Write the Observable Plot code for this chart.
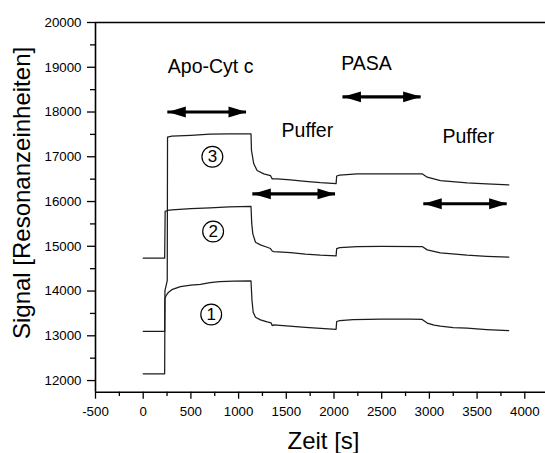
<!DOCTYPE html>
<html>
<head>
<meta charset="utf-8">
<script src="https://cdn.jsdelivr.net/npm/d3@7"></script>
<script src="https://cdn.jsdelivr.net/npm/@observablehq/plot@0.6"></script>
<style>
  html, body { margin: 0; padding: 0; background: #fff; }
  svg { display: block; }
</style>
</head>
<body>
<div id="chart"></div>
<script>
// Sensorgrams: time [s] vs. signal [resonance units]
const curve1 = [
  [0, 12150], [225, 12150], [228, 13830], [240, 13900], [260, 13960], [300, 14030],
  [390, 14100], [500, 14130], [600, 14150], [700, 14190], [800, 14210], [950, 14220],
  [1130, 14225], [1140, 13800], [1153, 13526], [1177, 13415], [1229, 13356], [1300, 13310],
  [1340, 13290], [1352, 13229], [1369, 13245], [1500, 13220], [1700, 13190], [1860, 13165],
  [2022, 13145], [2028, 13320], [2060, 13340], [2200, 13362], [2500, 13370], [2800, 13370],
  [2924, 13365], [2977, 13285], [3050, 13240], [3116, 13214], [3250, 13185], [3395, 13169],
  [3600, 13140], [3832, 13117]
];
const curve2 = [
  [0, 14733], [225, 14733], [230, 15780], [255, 15800], [300, 15815], [500, 15840],
  [700, 15860], [900, 15880], [1130, 15890], [1138, 15500], [1149, 15278], [1177, 15091],
  [1229, 15032], [1299, 14979], [1334, 14950], [1352, 14895], [1369, 14880], [1544, 14860],
  [1700, 14825], [1858, 14800], [2022, 14785], [2028, 14950], [2060, 14970], [2243, 14994],
  [2500, 15000], [2924, 14994], [2977, 14920], [3116, 14853], [3395, 14801], [3600, 14775],
  [3832, 14756]
];
const curve3 = [
  [0, 13100], [225, 13100], [228, 14010], [252, 14235], [255, 17437], [300, 17460],
  [500, 17480], [700, 17505], [900, 17512], [1130, 17513], [1135, 17140], [1159, 16842],
  [1194, 16693], [1264, 16619], [1334, 16581], [1352, 16507], [1405, 16507], [1544, 16485],
  [1700, 16450], [1858, 16420], [2022, 16400], [2028, 16570], [2060, 16590], [2243, 16619],
  [2600, 16620], [2924, 16619], [2977, 16543], [3116, 16469], [3395, 16417], [3600, 16395],
  [3832, 16372]
];

// Injection phases (double-headed arrows) and their labels
const phaseNames = ["Apo-Cyt c", "Puffer", "PASA", "Puffer"];
const phaseStart = [258, 1149, 2094, 2941];
const phaseEnd = [1083, 2016, 2913, 3815];
const phaseArrowY = [18000, 16170, 18340, 15950];
const phaseLabelX = [258, 1450, 2076, 3137];
const phaseLabelY = [18867, 17437, 18943, 17303];

// Curve numbers in circles
const curveIds = ["1", "2", "3"];
const curveIdX = [713, 733, 725];
const curveIdY = [13475, 15330, 17000];

// Axis ticks
const xMajor = d3.range(-500, 4001, 500);
const xMinor = d3.range(-250, 4001, 500);
const yMajor = d3.range(12000, 20001, 1000);
const yMinor = d3.range(12500, 20000, 1000);

const curves = [curve1, curve2, curve3];
const series = curves.flatMap((pts, i) => pts.map(([t, s]) => ({curve: curveIds[i], t, s})));
const phases = phaseNames.map((name, i) => ({
  name, x1: phaseStart[i], x2: phaseEnd[i], y: phaseArrowY[i], lx: phaseLabelX[i], ly: phaseLabelY[i]
}));
const ids = curveIds.map((id, i) => ({id, x: curveIdX[i], y: curveIdY[i]}));

// Filled arrowheads with the tip at the anchor point
const headRight = {draw(ctx) { ctx.moveTo(0, 0); ctx.lineTo(-18, -5.4); ctx.lineTo(-18, 5.4); ctx.closePath(); }};
const headLeft = {draw(ctx) { ctx.moveTo(0, 0); ctx.lineTo(18, -5.4); ctx.lineTo(18, 5.4); ctx.closePath(); }};

const font = "'Liberation Sans', Arial, Helvetica, sans-serif";
const plain = d => String(d);

const chart = Plot.plot({
  width: 545,
  height: 453,
  marginLeft: 95,
  marginRight: 0,
  marginTop: 22,
  marginBottom: 61.3,
  x: {domain: [-500, 4217]},
  y: {domain: [11740, 20000]},
  style: {fontFamily: font, background: "#fff", color: "#000", overflow: "visible"},
  marks: [
    Plot.axisY({ticks: yMinor, tickSize: 5, tickFormat: () => "", strokeWidth: 1.3, label: null}),
    Plot.axisY({ticks: yMajor, tickSize: 8, tickPadding: 6, tickFormat: plain, fontSize: 13.3, strokeWidth: 1.3, label: null}),
    Plot.axisX({ticks: xMinor, tickSize: 4.3, tickFormat: () => "", strokeWidth: 1.3, label: null}),
    Plot.axisX({ticks: xMajor, tickSize: 7, tickPadding: 7.3, tickFormat: plain, fontSize: 13.3, strokeWidth: 1.3, label: null}),
    Plot.ruleX([-500], {strokeWidth: 1.6}),
    Plot.ruleY([11740], {strokeWidth: 1.6}),
    Plot.ruleY([20000], {strokeWidth: 1.4}),
    Plot.line(series, {x: "t", y: "s", z: "curve", stroke: "#1c1c1c", strokeWidth: 1.25, curve: "linear"}),
    Plot.ruleY(phases, {y: "y", x1: "x1", x2: "x2", stroke: "#000", strokeWidth: 3.2}),
    Plot.dot(phases, {x: "x2", y: "y", symbol: headRight, fill: "#000", stroke: "none"}),
    Plot.dot(phases, {x: "x1", y: "y", symbol: headLeft, fill: "#000", stroke: "none"}),
    Plot.text(phases, {x: "lx", y: "ly", text: "name", textAnchor: "start", lineAnchor: "bottom", fontSize: 19.5, fill: "#000"}),
    Plot.dot(ids, {x: "x", y: "y", r: 10.4, stroke: "#000", strokeWidth: 1.2, fill: "none"}),
    Plot.text(ids, {x: "x", y: "y", text: "id", fontSize: 17, fill: "#000"}),
    Plot.text(["Zeit [s]"], {frameAnchor: "bottom", textAnchor: "middle", lineAnchor: "bottom", dx: 3, dy: 56.6, fontSize: 24, fill: "#000"}),
    Plot.text(["Signal [Resonanzeinheiten]"], {frameAnchor: "left", textAnchor: "middle", lineAnchor: "bottom", rotate: -90, dx: -65.7, dy: -14.4, fontSize: 24, fill: "#000"})
  ]
});

document.getElementById("chart").appendChild(chart);
</script>
</body>
</html>
